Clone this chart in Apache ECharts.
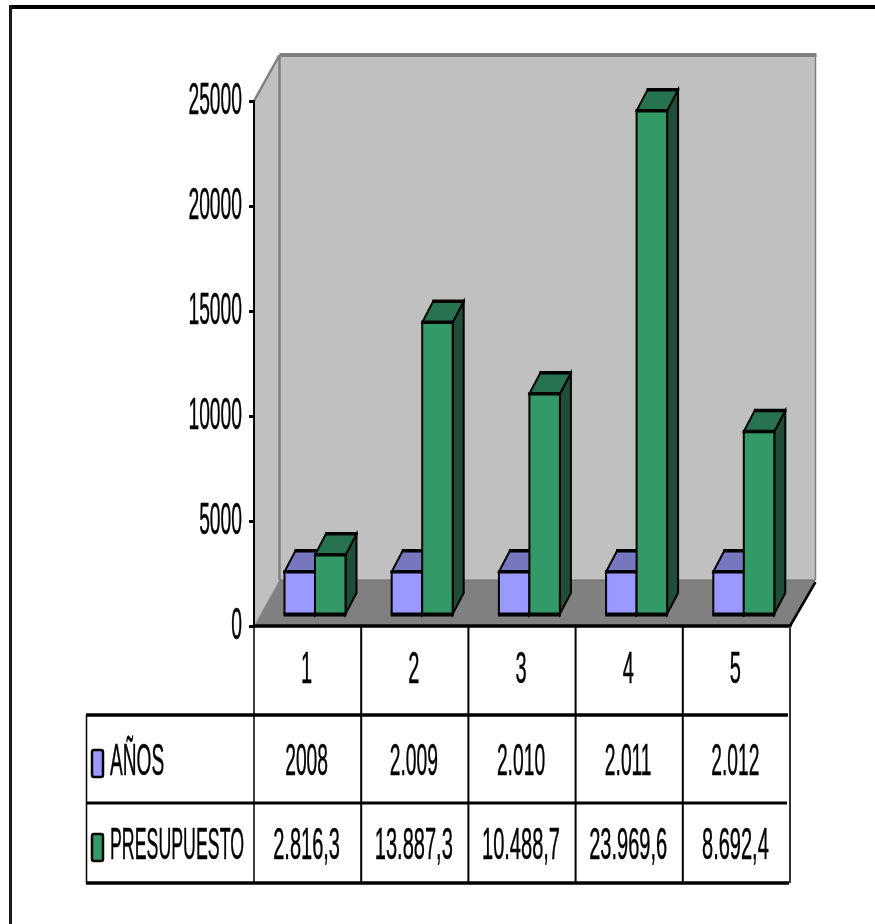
<!DOCTYPE html>
<html>
<head>
<meta charset="utf-8">
<title>Presupuesto por años</title>
<style>
  html, body { margin: 0; padding: 0; background: #fff; }
  #chart { width: 875px; height: 924px; }
</style>
<script src="https://cdn.jsdelivr.net/npm/echarts@6/dist/echarts.min.js"></script>
</head>
<body>
<div id="chart"></div>
<script>
const categories = ['1', '2', '3', '4', '5'];
const anosValues = [2008, 2009, 2010, 2011, 2012];
const presupuestoValues = [2816.3, 13887.3, 10488.7, 23969.6, 8692.4];
const anosLabels = ['2008', '2.009', '2.010', '2.011', '2.012'];
const presupuestoLabels = ['2.816,3', '13.887,3', '10.488,7', '23.969,6', '8.692,4'];
const yTicks = [0, 5000, 10000, 15000, 20000, 25000];
const seriesNames = ['AÑOS', 'PRESUPUESTO'];

const anosColors = { front: '#9999ff', top: '#7777bf', side: '#4d4d80' };
const presupuestoColors = { front: '#339966', top: '#277350', side: '#1f4d38' };

const FONT = 'Liberation Sans';
const FONT_SIZE = 45;
const SQUEEZE = 0.445;
const SQUEEZE_TIGHT = 0.428;

// Oblique depth of the chart box and of each bar, in pixels
const BOX_DX = 25.5, BOX_DY = -46;
const BAR_DX = 11, BAR_DY = -21;
const BAR_LIFT = 12, BAR_INSET = 30.5, BAR_W = 30.5;

// Table row boundaries and text centres
const ROW_LINES = [715, 803, 883];
const TABLE_LEFT = 86;
const ROW_CATEGORY_Y = 671, ROW_ANOS_Y = 763, ROW_PRES_Y = 847;

function label(text, x, y, align, squeeze) {
  return {
    type: 'text', x: x, y: y, scaleX: squeeze || SQUEEZE, silent: true,
    style: {
      text: text, fill: '#000', stroke: '#000', lineWidth: 0.5,
      fontFamily: FONT, fontSize: FONT_SIZE,
      textAlign: align, textVerticalAlign: 'middle', align: align, verticalAlign: 'middle'
    }
  };
}
function poly(points, fill, stroke, lw) {
  return { type: 'polygon', shape: { points: points },
    style: { fill: fill, stroke: stroke || null, lineWidth: lw || 0, lineJoin: 'miter' }, silent: true };
}
function seg(x1, y1, x2, y2, stroke, lw) {
  return { type: 'line', shape: { x1: x1, y1: y1, x2: x2, y2: y2 },
    style: { stroke: stroke, lineWidth: lw, lineCap: 'butt' }, silent: true };
}

// Back wall, side wall and floor of the box
function renderBox(params, api) {
  const o = api.coord([0, 0]);
  const top = api.coord([0, 25000])[1];
  const left = o[0] - api.size([1, 0])[0] / 2;
  const right = left + api.size([1, 0])[0] * categories.length;
  const bottom = o[1];
  const backL = left + BOX_DX, backR = right + BOX_DX, backT = top + BOX_DY, backB = bottom + BOX_DY;
  return { type: 'group', children: [
    poly([[backL, backT], [backR, backT], [backR, backB], [backL, backB]], '#c0c0c0'),
    poly([[left, top], [backL, backT], [backL, backB], [left, bottom]], '#c0c0c0'),
    seg(backL, backT, backR + 1, backT, '#808080', 4),
    seg(backR, backT, backR, backB, '#808080', 1.5),
    seg(backL, backT, backL, backB, '#808080', 2.5),
    seg(left, top, backL, backT, '#808080', 2.5),
    poly([[left, bottom], [right, bottom], [backR, backB], [backL, backB]], '#808080'),
    seg(backL, backB, backR, backB, '#6a6a6a', 1),
    seg(left, bottom, backL, backB, '#a0a0a0', 1),
    seg(right, bottom, backR, backB + 2, '#000', 2.5)
  ] };
}

// One oblique bar: front, top and side faces scaled from the value axis
function barRenderer(slot, colors) {
  return function (params, api) {
    const i = api.value(0);
    const band = api.size([1, 0])[0];
    const zero = api.coord([i, 0]);
    const head = api.coord([i, api.value(1)]);
    const x0 = zero[0] - band / 2 + BAR_INSET + slot * BAR_W;
    const x1 = x0 + BAR_W;
    const yb = zero[1] - BAR_LIFT;
    const yt = head[1] - BAR_LIFT;
    const d = BAR_DX, h = BAR_DY;
    return { type: 'group', children: [
      poly([[x1, yt], [x1 + d, yt + h], [x1 + d, yb + h], [x1, yb]], colors.side, '#000', 2),
      poly([[x0, yt], [x0 + d, yt + h], [x1 + d, yt + h], [x1, yt]], colors.top, '#000', 2),
      poly([[x0, yt], [x1, yt], [x1, yb], [x0, yb]], colors.front, '#000', 2),
      seg(x0 + d - 1, yt + h, x1 + d + 1, yt + h, '#000', 3.5),
      seg(x0 - 1, yt, x1 + 1, yt, '#000', 3.5),
      seg(x0 - 1, yb + 0.5, x1 + 1, yb + 0.5, '#000', 4)
    ] };
  };
}

// Value-axis tick labels
function renderTick(params, api) {
  const p = api.coord([0, api.value(1)]);
  const left = p[0] - api.size([1, 0])[0] / 2;
  return label(String(api.value(1)), left - 12, p[1] + 1, 'right', SQUEEZE_TIGHT);
}

// Data table below the plot, with the legend keys in its first column
function swatch(y, fill) {
  return { type: 'rect', shape: { x: 92, y: y, width: 11, height: 27, r: 2 },
    style: { fill: fill, stroke: '#000', lineWidth: 2.5 }, silent: true };
}
function renderTable(params, api) {
  const band = api.size([1, 0])[0];
  const o = api.coord([0, 0]);
  const start = o[0] - band / 2;
  const end = start + band * categories.length;
  const kids = [];
  kids.push(seg(TABLE_LEFT, ROW_LINES[0], end - 2, ROW_LINES[0], '#000', 3.5));
  kids.push(seg(TABLE_LEFT, ROW_LINES[1], end - 3, ROW_LINES[1], '#000', 3));
  kids.push(seg(TABLE_LEFT, ROW_LINES[2], end - 1, ROW_LINES[2], '#000', 3.5));
  kids.push(seg(TABLE_LEFT + 0.5, ROW_LINES[0], TABLE_LEFT + 0.5, ROW_LINES[2], '#000', 1.5));
  for (let k = 0; k <= categories.length; k++) {
    const x = start + band * k;
    kids.push(seg(x, o[1], x, ROW_LINES[2], k === categories.length ? '#333' : '#000', k === 0 ? 1.5 : 2));
  }
  categories.forEach(function (c, k) {
    const cx = api.coord([k, 0])[0] - 1;
    kids.push(label(c, cx, ROW_CATEGORY_Y, 'center'));
    kids.push(label(anosLabels[k], cx, ROW_ANOS_Y, 'center', SQUEEZE_TIGHT));
    kids.push(label(presupuestoLabels[k], cx, ROW_PRES_Y, 'center'));
  });
  kids.push(swatch(750, anosColors.front));
  kids.push(swatch(834, presupuestoColors.front));
  kids.push(label(seriesNames[0], 110, ROW_ANOS_Y, 'left', 0.425));
  kids.push(label(seriesNames[1], 110, ROW_PRES_Y, 'left', 0.395));
  return { type: 'group', children: kids };
}

const chart = echarts.init(document.getElementById('chart'), null, { renderer: 'canvas' });
chart.setOption({
  animation: false,
  backgroundColor: '#fff',
  tooltip: { show: false },
  grid: { left: 254, top: 101, width: 536, height: 525, containLabel: false },
  xAxis: {
    type: 'category', data: categories, z: 4,
    axisLine: { show: true, lineStyle: { color: '#000', width: 3.5 } },
    axisTick: { show: false }, axisLabel: { show: false }, splitLine: { show: false }
  },
  yAxis: {
    type: 'value', min: 0, max: 25000, interval: 5000, z: 4,
    axisLine: { show: true, lineStyle: { color: '#000', width: 2 } },
    axisTick: { show: true, length: 5, lineStyle: { color: '#000', width: 3 } },
    axisLabel: { show: false }, splitLine: { show: false }
  },
  graphic: [
    { type: 'rect', shape: { x: 9, y: 5, width: 866, height: 4 }, style: { fill: '#000' }, silent: true },
    { type: 'rect', shape: { x: 9, y: 5, width: 3, height: 919 }, style: { fill: '#1a1a1a' }, silent: true }
  ],
  series: [
    { type: 'custom', name: 'box', z: 1, clip: false, silent: true, renderItem: renderBox, data: [[0, 0]] },
    { type: 'custom', name: seriesNames[0], z: 5, clip: false, silent: true,
      renderItem: barRenderer(0, anosColors), data: anosValues.map(function (v, i) { return [i, v]; }) },
    { type: 'custom', name: seriesNames[1], z: 6, clip: false, silent: true,
      renderItem: barRenderer(1, presupuestoColors), data: presupuestoValues.map(function (v, i) { return [i, v]; }) },
    { type: 'custom', name: 'ticks', z: 7, clip: false, silent: true,
      renderItem: renderTick, data: yTicks.map(function (t) { return [0, t]; }) },
    { type: 'custom', name: 'table', z: 7, clip: false, silent: true, renderItem: renderTable, data: [[0, 0]] }
  ]
});
</script>
</body>
</html>
